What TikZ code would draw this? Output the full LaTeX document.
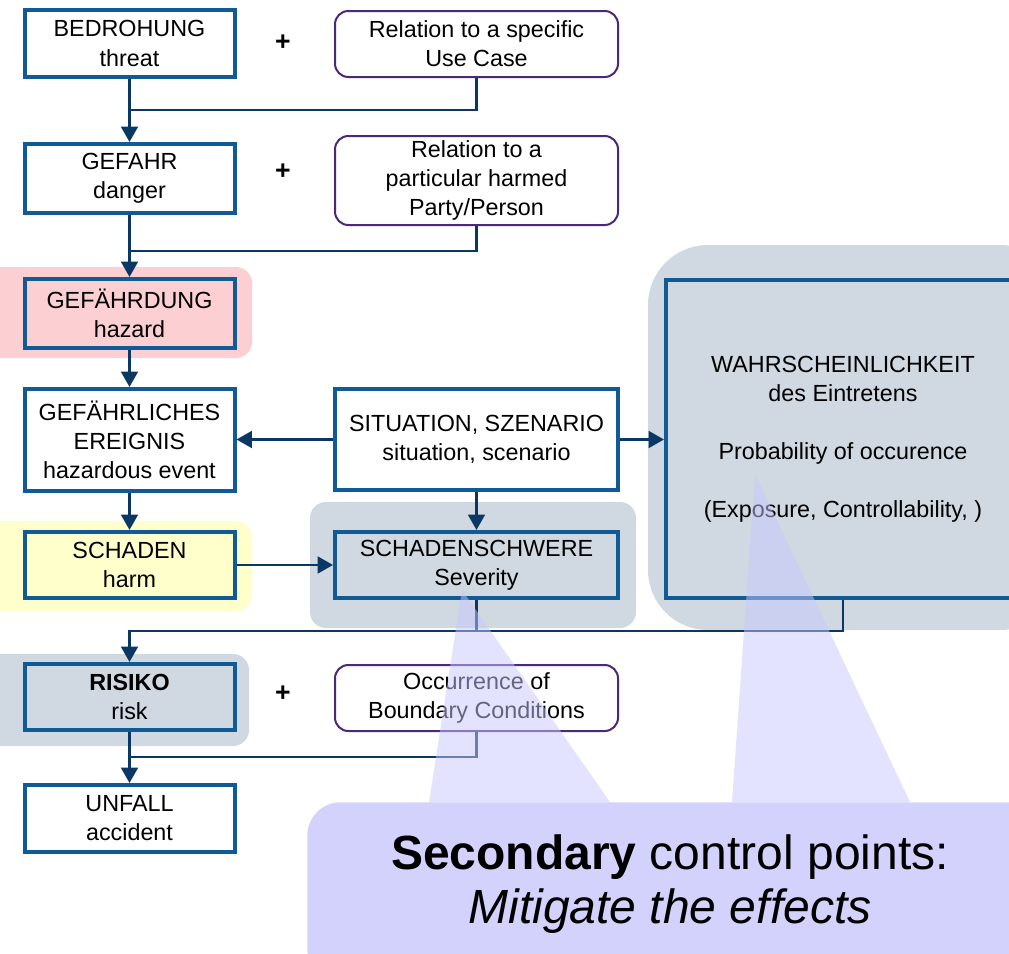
\documentclass[tikz,border=0pt]{standalone}
\usepackage{fontspec}
\setmainfont{Liberation Sans}
\usetikzlibrary{arrows.meta,backgrounds}

\definecolor{boxblue}{RGB}{16,90,150}
\definecolor{navy}{RGB}{10,55,100}
\definecolor{relpurple}{RGB}{75,40,120}
\definecolor{pinkbg}{RGB}{252,208,210}
\definecolor{yellowbg}{RGB}{255,255,204}
\definecolor{greybg}{RGB}{208,216,225}
\definecolor{calloutbg}{RGB}{210,210,252}
\definecolor{wedgebg}{RGB}{200,200,255}

\tikzset{
  sz/.style 2 args={minimum width=#1*0.75pt, minimum height=#2*0.75pt},
  stagebox/.style={draw=boxblue, line width=3pt, fill=white, align=center,
    inner sep=0pt, font=\fontsize{17.5}{21.8}\selectfont},
  relbox/.style={draw=relpurple, line width=1.5pt, fill=white, rounded corners=10pt,
    align=center, inner sep=0pt, font=\fontsize{17.5}{21.8}\selectfont},
  plus/.style={font=\fontsize{20}{20}\selectfont\bfseries},
  ln/.style={draw=navy, line width=2pt},
  arr/.style={ln, -{Triangle[length=11.5pt,width=12.5pt]}},
  halo/.style={rounded corners=12pt},
  wedge/.style={fill=wedgebg, fill opacity=0.5},
}

\begin{document}
\begin{tikzpicture}[x=0.75pt,y=-0.75pt]
\useasboundingbox (0,0) rectangle (1009,953);

% soft highlight areas behind some stages
\fill[pinkbg, halo] (-30,267) rectangle (252,358);
\fill[yellowbg, halo] (-30,521) rectangle (252,611);
\fill[greybg, halo] (-30,654) rectangle (249,746);
\fill[greybg, halo] (310,502) rectangle (636,628);
\fill[greybg, rounded corners=45pt] (648,245) rectangle (1060,630);

% causal chain (left column)
\node[stagebox, sz={210}{67}] (threat) at (129.5,43.5) {BEDROHUNG\\threat};
\node[stagebox, sz={210}{69}] (danger) at (129.5,178.5) {GEFAHR\\danger};
\node[stagebox, sz={210}{69}, fill=pinkbg] (hazard) at (129.5,313.5) {GEFÄHRDUNG\\hazard};
\node[stagebox, sz={210}{102}] (event) at (129.5,440) {GEFÄHRLICHES\\EREIGNIS\\hazardous event};
\node[stagebox, sz={210}{66}, fill=yellowbg] (harm) at (129.5,565) {SCHADEN\\harm};
\node[stagebox, sz={210}{66}, fill=greybg] (risk) at (129.5,697) {\textbf{RISIKO}\\risk};
\node[stagebox, sz={210}{67}] (accident) at (129.5,818.5) {UNFALL\\accident};

% additional conditions
\node[plus] (p1) at (283,43) {+};
\node[plus] (p2) at (283,172) {+};
\node[plus] (p3) at (283,694) {+};
\node[relbox, sz={283}{66}] (usecase) at (476.5,44) {Relation to a specific\\Use Case};
\node[relbox, sz={283}{89}] (party) at (476.5,180.5) {Relation to a\\particular harmed\\Party/Person};
\node[relbox, sz={283}{66}] (bound) at (476.5,698) {Occurrence of\\Boundary Conditions};

% situation, severity and probability
\node[stagebox, sz={283}{101}] (situation) at (476.5,439.5) {SITUATION, SZENARIO\\situation, scenario};
\node[stagebox, sz={283}{66}, fill=greybg] (severity) at (476.5,565) {SCHADENSCHWERE\\Severity};
\node[stagebox, sz={354}{318}, fill=greybg] (prob) at (843,439)
  {WAHRSCHEINLICHKEIT\\des Eintretens\\[21.8pt]Probability of occurence\\[21.8pt](Exposure, Controllability, )};

% junction points on the main line
\coordinate (j1) at (129.5,110);
\coordinate (j2) at (129.5,251);
\coordinate (j3) at (129.5,631);
\coordinate (j4) at (129.5,757);

% connectors
\draw[arr] (threat) -- (danger);
\draw[ln] (usecase.south) |- (j1);
\draw[arr] (danger) -- (hazard);
\draw[ln] (party.south) |- (j2);
\draw[arr] (hazard) -- (event);
\draw[arr] (event) -- (harm);
\draw[arr] (situation.west) -- (event.east |- situation.west);
\draw[arr] (situation.east) -- (prob.west |- situation.east);
\draw[arr] (situation) -- (severity);
\draw[arr] (harm.east) -- (severity.west |- harm.east);
\draw[ln] (severity.south) -- (severity.south |- j3);
\draw[arr] (prob.south) |- (j3) -- (risk.north);
\draw[arr] (risk) -- (accident);
\draw[ln] (bound.south) |- (j4);

% pointers of the callout
\fill[wedge] (462,590) -- (610,802) -- (429,802) -- cycle;
\fill[wedge] (755,474) -- (910,802) -- (732,802) -- cycle;

% callout
\node[fill=calloutbg, rounded corners=25pt, minimum width=760*0.75pt,
  minimum height=180*0.75pt, anchor=north west, inner sep=0pt] (callout) at (307,802) {};
\node[align=center, font=\fontsize{36}{41}\selectfont, anchor=center] (ctext) at (670,884)
  {\textbf{Secondary} control points:\\\textit{Mitigate the effects}};
\end{tikzpicture}
\end{document}
